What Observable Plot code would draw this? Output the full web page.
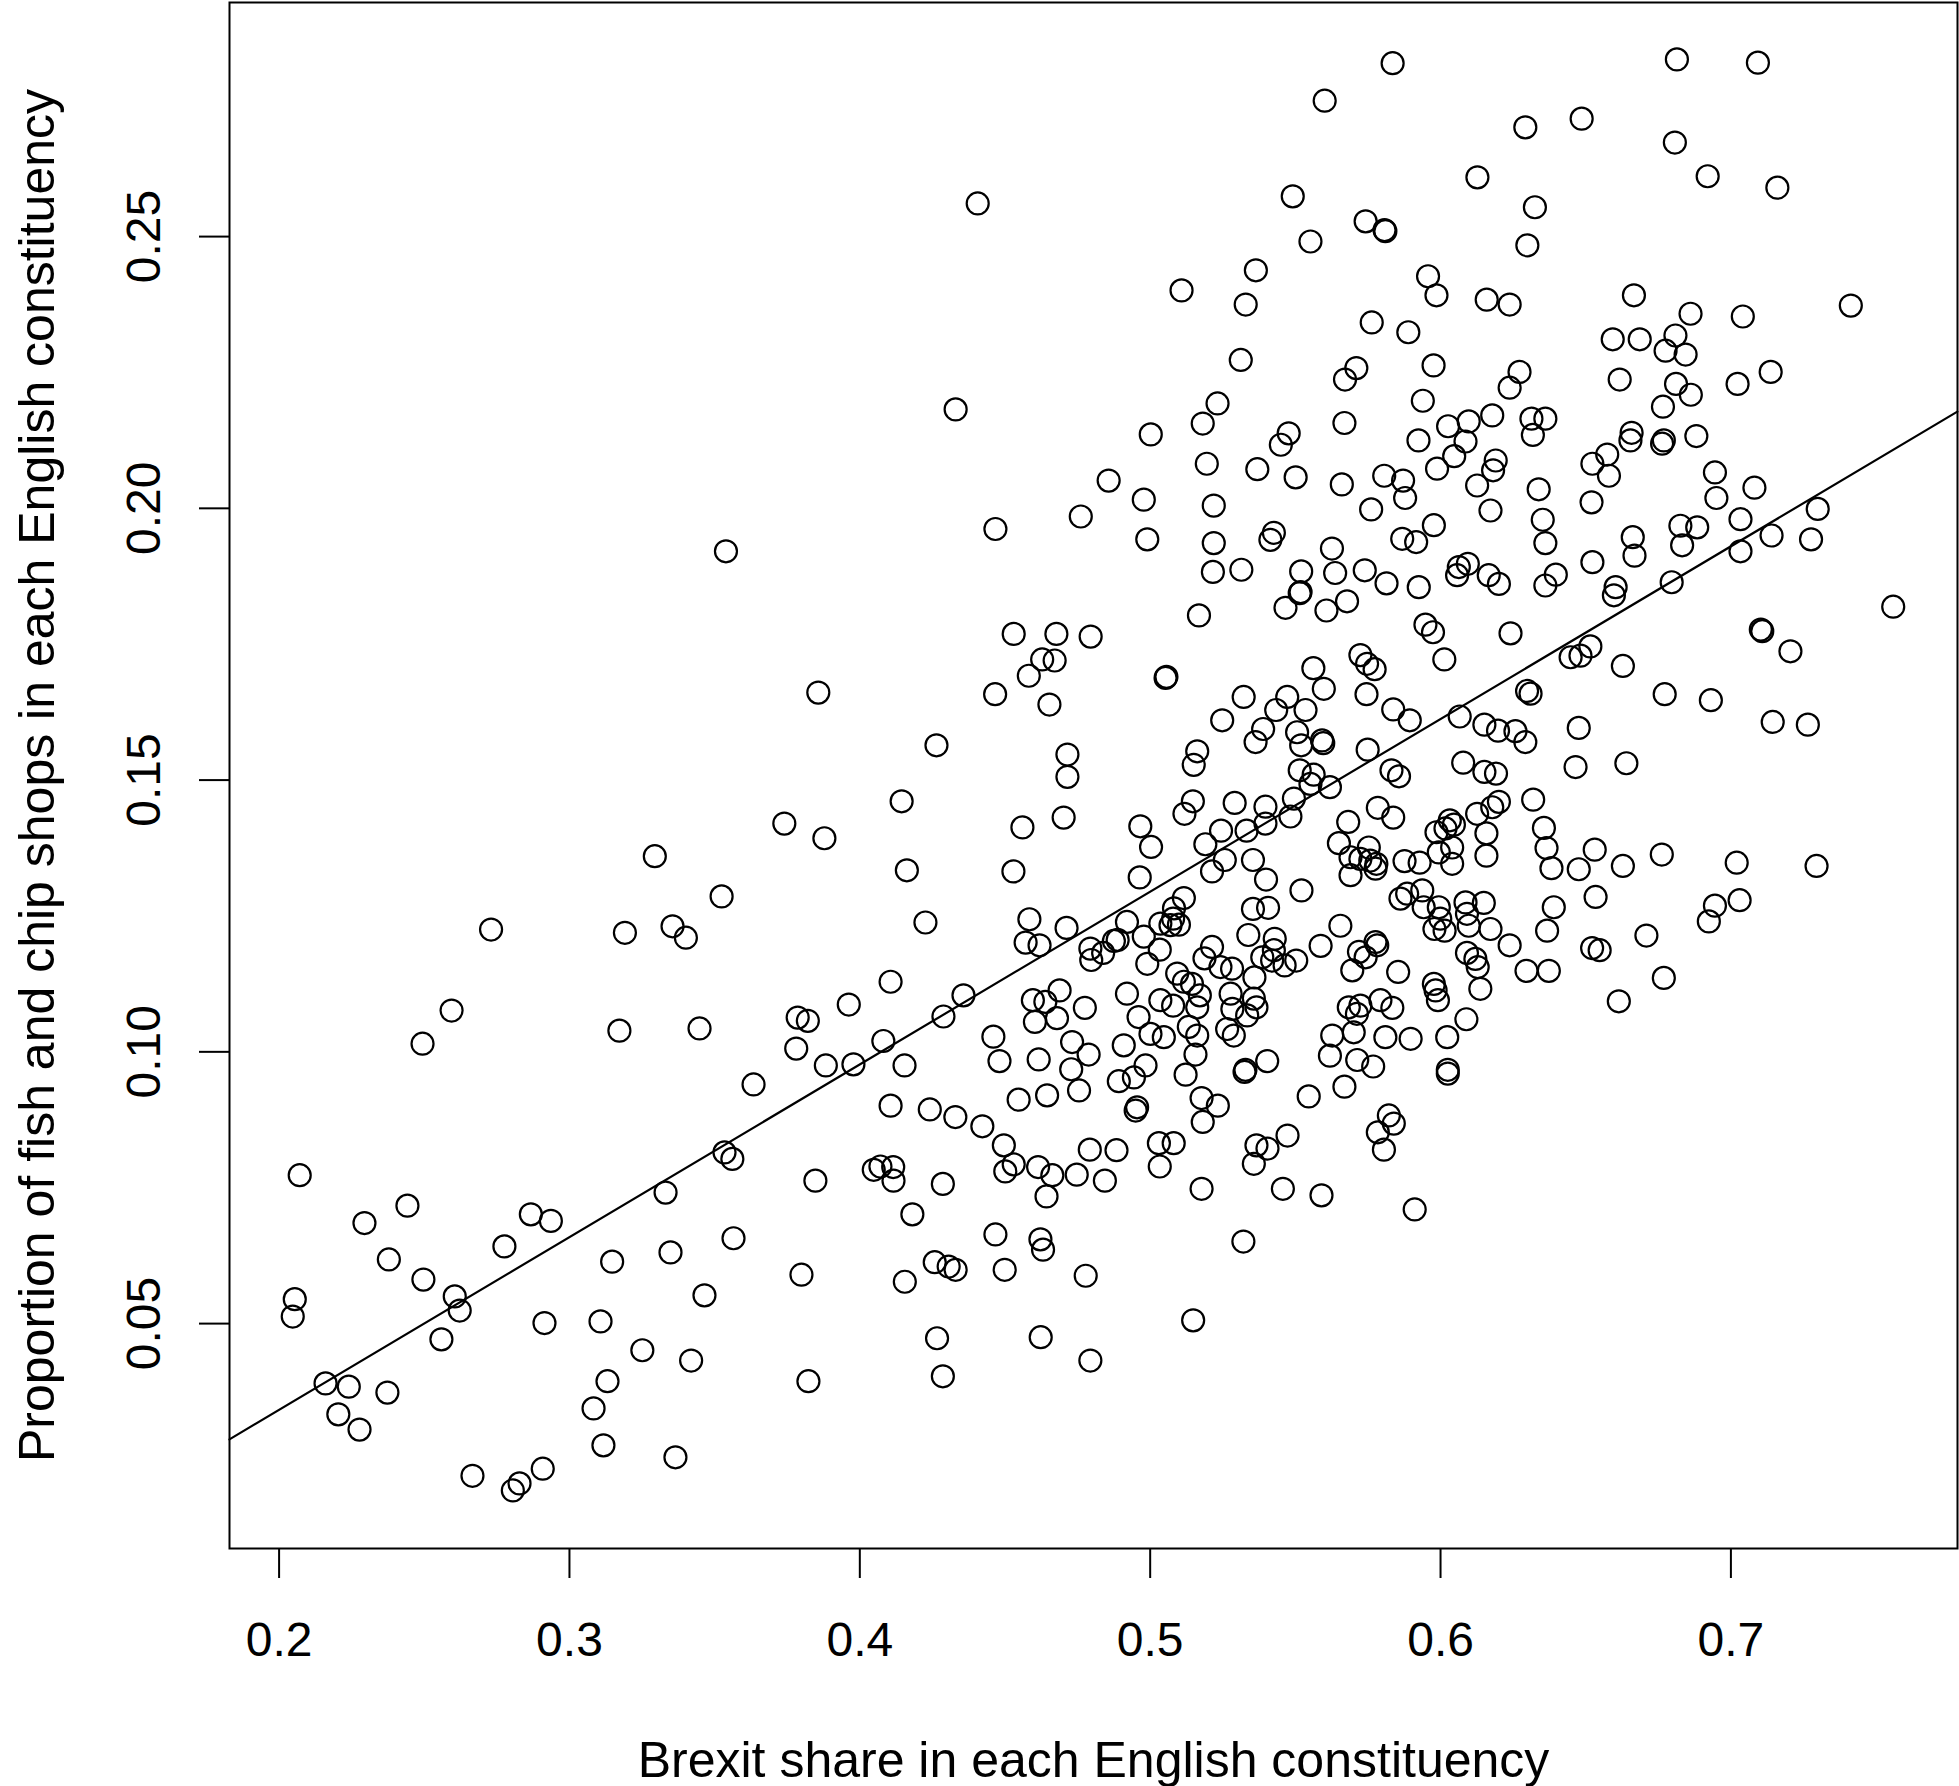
<!DOCTYPE html>
<html><head><meta charset="utf-8">
<script src="https://cdn.jsdelivr.net/npm/d3@7"></script>
<script src="https://cdn.jsdelivr.net/npm/@observablehq/plot@0.6"></script>
<style>body{margin:0;background:#fff}</style>
</head><body><div id="chart"></div>
<script>
const xTicks = [0.2, 0.3, 0.4, 0.5, 0.6, 0.7];
const yTicks = [0.05, 0.10, 0.15, 0.20, 0.25];
const xTitle = "Brexit share in each English constituency";
const yTitle = "Proportion of fish and chip shops in each English constituency";

// [Brexit share, fish & chip share]
const shareBelow35 = [
[0.3294,0.1360],[0.2730,0.1225],[0.3191,0.1219],[0.3355,0.1231],[0.3401,0.1210],[0.2594,0.1076],[0.2494,0.1015],[0.3172,0.1039],[0.3448,0.1043],
[0.2071,0.0773],[0.2442,0.0717],[0.2294,0.0685],[0.2867,0.0701],[0.2936,0.0689],[0.2776,0.0642],[0.3331,0.0741],[0.2378,0.0618],[0.2497,0.0581],[0.2605,0.0550],[0.2622,0.0524],[0.2054,0.0545],[0.2047,0.0513],[0.3147,0.0614],[0.3348,0.0631],[0.3465,0.0552],[0.2559,0.0471],[0.2914,0.0501],[0.3107,0.0504],[0.3251,0.0451],[0.3419,0.0432],[0.2160,0.0390],[0.2240,0.0384],[0.2373,0.0373],[0.2204,0.0333],[0.2277,0.0305],[0.3131,0.0394],[0.3083,0.0344],[0.3117,0.0276],[0.3365,0.0254],[0.2666,0.0220],[0.2828,0.0206],[0.2805,0.0193],[0.2908,0.0233]
];
const share35to49 = [
[0.4406,0.2561],[0.4330,0.2182],[0.4857,0.2051],[0.4761,0.1985],[0.4467,0.1962],
[0.3539,0.1921],[0.4530,0.1769],[0.4677,0.1769],[0.4795,0.1764],[0.4628,0.1722],[0.4671,0.1720],[0.4582,0.1692],[0.4466,0.1658],[0.4653,0.1639],[0.3857,0.1661],[0.4264,0.1564],[0.4715,0.1547],[0.4715,0.1506],[0.4144,0.1461],[0.3740,0.1420],[0.3878,0.1393],[0.4560,0.1413],[0.4702,0.1431],[0.4162,0.1334],[0.4529,0.1332],[0.3524,0.1286],[0.4226,0.1238],[0.4584,0.1244],[0.4712,0.1228],[0.4571,0.1201],[0.4619,0.1196],[0.4794,0.1190],[0.4797,0.1169],[0.4838,0.1182],[0.4875,0.1204],[0.4888,0.1206],[0.4920,0.1239],[0.4106,0.1129],[0.3962,0.1087],[0.4357,0.1104],[0.4288,0.1065],[0.3786,0.1063],[0.3821,0.1057],[0.4688,0.1113],[0.4596,0.1095],[0.4639,0.1092],[0.4775,0.1081],[0.4603,0.1055],[0.4679,0.1062],[0.4920,0.1107],[0.4460,0.1028],[0.4731,0.1018],[0.4081,0.1020],[0.3781,0.1006],[0.4909,0.1012],
[0.3883,0.0975],[0.3978,0.0977],[0.4154,0.0975],[0.3634,0.0940],[0.4481,0.0983],[0.4616,0.0986],[0.4788,0.0995],[0.4728,0.0968],[0.4892,0.0946],[0.4645,0.0920],[0.4547,0.0912],[0.4755,0.0929],[0.4106,0.0901],[0.4241,0.0894],[0.4329,0.0880],[0.4422,0.0863],[0.4496,0.0828],[0.4530,0.0793],[0.4501,0.0780],[0.4614,0.0788],[0.4663,0.0773],[0.4643,0.0734],[0.4747,0.0774],[0.4792,0.0820],[0.4884,0.0819],[0.4844,0.0763],[0.3534,0.0815],[0.3561,0.0803],[0.3847,0.0763],[0.4048,0.0783],[0.4071,0.0789],[0.4115,0.0788],[0.4116,0.0763],[0.4286,0.0757],[0.4181,0.0701],[0.3565,0.0657],[0.4467,0.0664],[0.4622,0.0655],[0.4631,0.0636],[0.3799,0.0590],[0.4258,0.0613],[0.4306,0.0605],[0.4330,0.0599],[0.4155,0.0577],[0.4499,0.0599],[0.4778,0.0588],[0.4266,0.0473],[0.4623,0.0475],[0.4794,0.0432],[0.3823,0.0394],[0.4286,0.0403]
];
const share49to64Upper = [
[0.5835,0.2819],[0.5601,0.2750],[0.6292,0.2701],[0.6127,0.2609],[0.6325,0.2554],[0.6299,0.2484],[0.5491,0.2574],[0.5742,0.2528],[0.5807,0.2512],[0.5810,0.2510],[0.5552,0.2491],[0.5364,0.2438],[0.5108,0.2401],[0.5329,0.2375],[0.5957,0.2427],[0.5986,0.2392],[0.6159,0.2384],[0.6238,0.2375],[0.5763,0.2342],[0.5889,0.2324],[0.5312,0.2273],[0.5710,0.2258],[0.5671,0.2237],[0.5976,0.2263],[0.6272,0.2251],[0.6238,0.2222],[0.5939,0.2198],[0.5232,0.2193],[0.5181,0.2156],[0.5002,0.2136],[0.5477,0.2138],[0.5450,0.2117],[0.5669,0.2157],[0.5924,0.2125],[0.6026,0.2151],[0.6097,0.2160],[0.6178,0.2171],[0.6086,0.2123],[0.6047,0.2096],[0.5988,0.2073],[0.6190,0.2088],[0.6181,0.2070],[0.6126,0.2042],[0.6313,0.2165],[0.6361,0.2165],[0.6318,0.2135],[0.6338,0.2035],[0.5195,0.2082],[0.5369,0.2072],[0.5501,0.2057],[0.5660,0.2044],[0.5806,0.2060],[0.5871,0.2051],[0.5878,0.2019],[0.4978,0.2016],[0.5219,0.2005],[0.5761,0.1998],[0.5977,0.1969],[0.6172,0.1996],[0.6352,0.1979]
];
const share49to64Middle = [
[0.4990,0.1943],[0.5219,0.1936],[0.5426,0.1955],[0.5414,0.1942],[0.5626,0.1926],[0.5868,0.1944],[0.5916,0.1938],[0.6361,0.1936],
[0.5216,0.1883],[0.5314,0.1887],[0.5520,0.1884],[0.5518,0.1846],[0.5515,0.1844],[0.5466,0.1817],[0.5637,0.1881],[0.5739,0.1886],[0.5814,0.1862],[0.5678,0.1829],[0.5607,0.1812],[0.5925,0.1855],[0.6057,0.1877],[0.6063,0.1892],[0.6094,0.1898],[0.6166,0.1877],[0.6201,0.1861],[0.6361,0.1858],[0.6397,0.1878],[0.5168,0.1803],[0.5948,0.1786],[0.5974,0.1772],[0.6241,0.1770],
[0.5053,0.1688],[0.5056,0.1690],[0.6013,0.1722],[0.5724,0.1730],[0.5747,0.1714],[0.5773,0.1704],[0.5562,0.1706],[0.5598,0.1668],[0.5745,0.1658],[0.5322,0.1653],[0.5472,0.1653],[0.5434,0.1629],[0.5535,0.1629],[0.5248,0.1610],[0.5837,0.1630],[0.5894,0.1610],[0.6066,0.1617],[0.6298,0.1664],[0.6310,0.1659],[0.6151,0.1602],[0.6198,0.1591],[0.6258,0.1590],[0.6292,0.1570],
[0.5389,0.1594],[0.5363,0.1570],[0.5506,0.1588],[0.5520,0.1564],[0.5592,0.1573],[0.5596,0.1568],[0.5162,0.1553],[0.5150,0.1528],[0.5749,0.1556],[0.6078,0.1532],[0.6151,0.1515],[0.6191,0.1512],[0.5831,0.1518],[0.5857,0.1507],[0.5515,0.1518],[0.5563,0.1510],[0.5552,0.1493],[0.5619,0.1487],
[0.5495,0.1466],[0.5483,0.1433],[0.5397,0.1451],[0.5397,0.1420],[0.5291,0.1458],[0.5147,0.1461],[0.5118,0.1438],[0.4966,0.1415],[0.5003,0.1377],[0.5244,0.1407],[0.5332,0.1407],[0.5190,0.1382],[0.5784,0.1449],[0.5837,0.1431],[0.5682,0.1423],[0.5650,0.1384],[0.6319,0.1464],[0.6201,0.1460],[0.6178,0.1450],[0.6126,0.1438],[0.6158,0.1402],[0.6032,0.1426],[0.6046,0.1418],[0.6017,0.1411],[0.5986,0.1404],[0.6356,0.1412],[0.6365,0.1375],[0.6040,0.1376],[0.5994,0.1367],[0.6158,0.1361]
];
const share49to64Lower = [
[0.4964,0.1321],[0.5213,0.1332],[0.5257,0.1353],[0.5354,0.1353],[0.5399,0.1317],[0.5521,0.1297],[0.5690,0.1358],[0.5690,0.1325],[0.5753,0.1376],[0.5724,0.1355],[0.5758,0.1352],[0.5779,0.1346],[0.5776,0.1337],[0.5876,0.1351],[0.5928,0.1348],[0.6040,0.1346],[0.6382,0.1338],
[0.5862,0.1282],[0.5885,0.1291],[0.5937,0.1297],[0.5942,0.1266],[0.5994,0.1266],[0.5999,0.1245],[0.5979,0.1226],[0.6014,0.1223],[0.6086,0.1275],[0.6149,0.1274],[0.6091,0.1254],[0.6097,0.1232],[0.6172,0.1226],[0.6390,0.1266],[0.6367,0.1223],[0.6238,0.1196],[0.6296,0.1149],[0.6373,0.1149],[0.6091,0.1182],[0.6120,0.1171],[0.6128,0.1156],[0.6137,0.1116],[0.6089,0.1060],[0.5854,0.1147],[0.5977,0.1125],[0.5983,0.1113],[0.5991,0.1095],
[0.5655,0.1232],[0.5587,0.1195],[0.5776,0.1202],[0.5782,0.1196],[0.5719,0.1184],[0.5742,0.1174],[0.5696,0.1150],
[0.5338,0.1215],[0.5429,0.1208],[0.5426,0.1187],[0.5386,0.1174],[0.5420,0.1168],[0.5463,0.1159],[0.5503,0.1168],[0.5359,0.1137],[0.5354,0.1263],[0.5406,0.1265],
[0.5213,0.1193],[0.5187,0.1172],[0.5242,0.1156],[0.5282,0.1153],[0.5116,0.1283],[0.5082,0.1264],[0.5079,0.1245],[0.5099,0.1234],[0.5070,0.1233],[0.5035,0.1236],[0.4978,0.1212],[0.5033,0.1188],[0.4990,0.1162],[0.5093,0.1144],[0.5116,0.1129],[0.5144,0.1125],[0.5171,0.1104],[0.5035,0.1095],[0.5079,0.1085],[0.5162,0.1082],[0.4960,0.1064],[0.5001,0.1033],[0.5047,0.1027],[0.5133,0.1046],[0.5162,0.1030],
[0.5277,0.1107],[0.5283,0.1079],[0.5357,0.1098],[0.5366,0.1082],[0.5334,0.1067],[0.5265,0.1042],[0.5288,0.1030],[0.5627,0.1030],[0.5684,0.1082],[0.5724,0.1085],[0.5712,0.1070],[0.5793,0.1095],[0.5834,0.1081],[0.5701,0.1036],[0.5810,0.1027],[0.5897,0.1024],[0.6023,0.1027],
[0.5156,0.0995],[0.4984,0.0975],[0.4944,0.0953],[0.5122,0.0958],[0.4955,0.0898],[0.4950,0.0892],[0.5177,0.0915],[0.5233,0.0901],[0.5181,0.0871],[0.5030,0.0832],[0.5081,0.0832],[0.5033,0.0789],[0.5328,0.0967],[0.5325,0.0963],[0.5403,0.0983],[0.5546,0.0918],[0.5619,0.0993],[0.5713,0.0985],[0.5768,0.0973],[0.5669,0.0936],[0.6025,0.0967],[0.6025,0.0960],[0.5822,0.0883],[0.5839,0.0868],[0.5784,0.0852],[0.5805,0.0820],[0.5366,0.0828],[0.5404,0.0822],[0.5473,0.0846],[0.5357,0.0794],[0.5177,0.0748],[0.5457,0.0748],[0.5590,0.0736],[0.5911,0.0710],[0.5321,0.0651],[0.5148,0.0506]
];
const shareAbove64 = [
[0.6814,0.2826],[0.7093,0.2820],[0.6486,0.2717],[0.6807,0.2673],[0.6920,0.2611],[0.7160,0.2590],[0.6666,0.2392],[0.6861,0.2358],[0.7041,0.2353],[0.7413,0.2373],[0.6593,0.2311],[0.6686,0.2311],[0.6809,0.2318],[0.6775,0.2290],[0.6844,0.2283],[0.6617,0.2237],[0.6811,0.2229],[0.6862,0.2209],[0.6766,0.2187],[0.7023,0.2229],[0.7137,0.2251],[0.6658,0.2139],[0.6654,0.2125],[0.6769,0.2125],[0.6763,0.2119],[0.6881,0.2133],[0.6523,0.2082],[0.6574,0.2099],[0.6580,0.2060],[0.6945,0.2066],[0.6950,0.2019],[0.7081,0.2038],[0.6520,0.2011],[0.7299,0.1999],[0.7033,0.1980],[0.6826,0.1968],[0.6884,0.1965],
[0.6662,0.1947],[0.6668,0.1913],[0.6832,0.1932],[0.6523,0.1901],[0.6603,0.1855],[0.6597,0.1840],[0.6796,0.1864],[0.7033,0.1921],[0.7140,0.1950],[0.7276,0.1943],[0.7559,0.1819],[0.7103,0.1777],[0.7108,0.1774],[0.7205,0.1737],[0.6516,0.1746],[0.6482,0.1729],[0.6448,0.1726],[0.6628,0.1710],[0.6772,0.1658],[0.6931,0.1647],[0.7144,0.1607],[0.7265,0.1602],[0.6476,0.1596],[0.6465,0.1524],[0.6640,0.1531],[0.6531,0.1372],[0.6476,0.1336],[0.6628,0.1342],[0.6762,0.1363],[0.7020,0.1348],[0.7295,0.1342],[0.6534,0.1285],[0.6945,0.1269],[0.6924,0.1240],[0.7030,0.1279],[0.6709,0.1214],[0.6522,0.1191],[0.6548,0.1187],[0.6769,0.1136],[0.6614,0.1093]
];

// fitted regression line, read at the two edges of the plot region
const fitX = [0.1829, 0.7780];
const fitY = [0.0287, 0.2178];

const points = [].concat(shareBelow35, share35to49, share49to64Upper, share49to64Middle, share49to64Lower, shareAbove64)
  .map(([x, y]) => ({x, y}));
const fit = fitX.map((x, i) => ({x, y: fitY[i]}));

const chart = Plot.plot({
  width: 1959, height: 1786,
  marginLeft: 229, marginRight: 2, marginTop: 2, marginBottom: 238,
  style: {fontFamily: "'Liberation Sans', Arial, Helvetica, sans-serif", background: "white", color: "black", overflow: "visible"},
  x: {domain: [0.18292, 0.77804]},
  y: {domain: [0.00862, 0.29307]},
  marks: [
    Plot.frame({stroke: "black", strokeWidth: 2}),
    Plot.dot(points, {x: "x", y: "y", r: 11, stroke: "black", strokeWidth: 2.2, fill: "none"}),
    Plot.line(fit, {x: "x", y: "y", stroke: "black", strokeWidth: 2.2}),
    Plot.axisX({ticks: xTicks, tickSize: 30, tickPadding: 43, tickFormat: d3.format(".1f"), fontSize: 48, label: null, strokeWidth: 2}),
    Plot.axisY({ticks: yTicks, tickSize: 30, tickFormat: () => "", label: null, strokeWidth: 2}),
    Plot.text(yTicks, {y: d => d, text: d3.format(".2f"), frameAnchor: "left", dx: -85, rotate: -90, fontSize: 48, lineAnchor: "middle", textAnchor: "middle"}),
    Plot.text([xTitle], {text: d => d, frameAnchor: "bottom", dy: 228, fontSize: 50, lineAnchor: "bottom", textAnchor: "middle"}),
    Plot.text([yTitle], {text: d => d, frameAnchor: "left", dx: -176, rotate: -90, fontSize: 50, lineAnchor: "bottom", textAnchor: "middle"})
  ]
});
document.getElementById("chart").appendChild(chart);
</script>
</body></html>
